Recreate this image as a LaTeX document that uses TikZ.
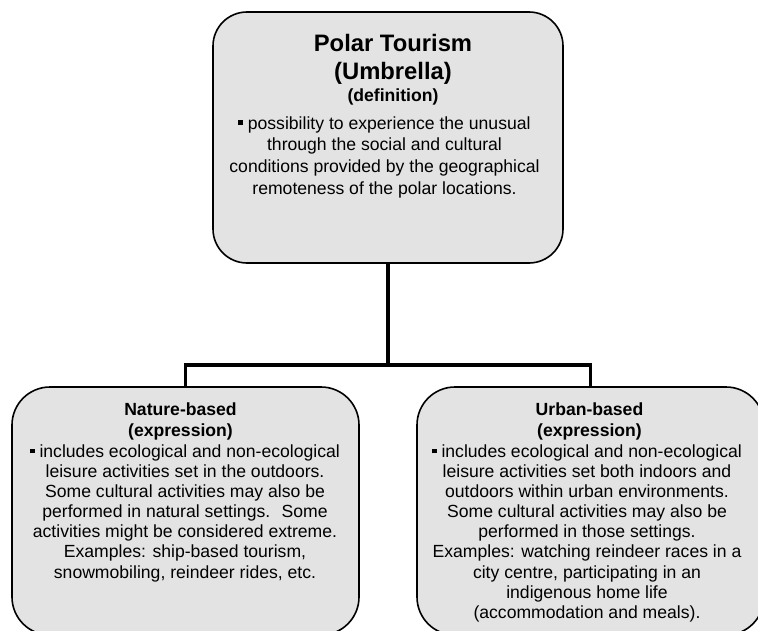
\documentclass[tikz,border=0pt]{standalone}
\usepackage{fontspec}
\setmainfont{Liberation Sans}
\definecolor{boxgray}{RGB}{227,227,227}
\newcommand{\sqbul}{\raisebox{0.24em}{\rule{0.26em}{0.26em}} }
\begin{document}
\begin{tikzpicture}[x=1pt,y=-1pt,
  boxst/.style={draw=black, line width=1.6pt, fill=boxgray, inner sep=0pt},
  conn/.style={draw=black, line width=3.5pt},
  titlef/.style={font=\fontsize{23.8}{28}\selectfont\bfseries, align=center, anchor=base, inner sep=0pt},
  headf/.style={font=\fontsize{17.6}{21}\selectfont\bfseries, align=center, anchor=base, inner sep=0pt},
  topbody/.style={font=\fontsize{17.6}{21.7}\selectfont, align=center, anchor=base, inner sep=0pt},
  botbody/.style={font=\fontsize{17.6}{20.05}\selectfont, align=center, anchor=base, inner sep=0pt}]
\useasboundingbox (0,0) rectangle (758,631);
\clip (0,0) rectangle (758,631);
\node[boxst, rounded corners=34pt, minimum width=350pt, minimum height=251pt] (top) at (388,137.5) {};
\node[boxst, rounded corners=38pt, minimum width=347pt, minimum height=248pt] (left) at (185.5,511) {};
\node[boxst, rounded corners=38pt, minimum width=347pt, minimum height=248pt] (right) at (590.5,511) {};
\coordinate (hub) at (388,365);
\draw[conn] (top.south) -- (hub);
\draw[conn] (left.north) |- (hub) -| (right.north);
% base anchor of a multi-line node = baseline of its last line
\node[titlef] (ttl) at (393,80) {Polar Tourism\\(Umbrella)};
\node[headf] (def) at (393,102) {(definition)};
\node[topbody] (tdesc) at (384.5,194.4) {\sqbul possibility to experience the unusual\\through the social and cultural\\conditions provided by the geographical\\remoteness of the polar locations.};
\node[headf] (lhead) at (180.5,436.7) {Nature-based\\(expression)};
\node[botbody] (lbody) at (185,578) {\sqbul includes ecological and non-ecological\\leisure activities set in the outdoors.\hspace*{19pt}\\Some cultural activities may also be\\performed in natural settings.~ Some\\activities might be considered extreme.\hspace*{13pt}\\Examples: ship-based tourism,\\snowmobiling, reindeer rides, etc.};
\node[headf] (rhead) at (589.5,436.7) {Urban-based\\(expression)};
\node[botbody] (rbody) at (587,618.1) {\sqbul includes ecological and non-ecological\\leisure activities set both indoors and\\outdoors within urban environments.\\Some cultural activities may also be\\performed in those settings.\\Examples: watching reindeer races in a\\city centre, participating in an\\indigenous home life\\(accommodation and meals).};
\end{tikzpicture}
\end{document}
